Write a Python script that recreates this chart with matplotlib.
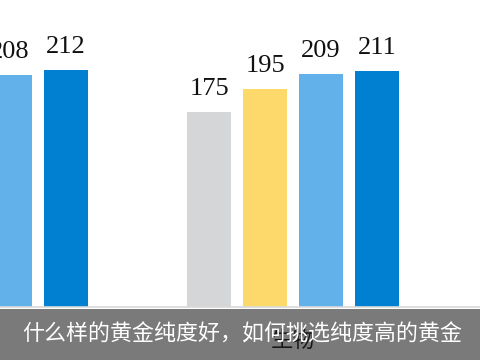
import numpy as np
import matplotlib.pyplot as plt
from matplotlib.patches import Rectangle

plt.rcParams['font.family'] = ['Noto Sans CJK SC', 'DejaVu Sans']

# 科目 (only two groups show in the crop)
subjects = ['物理', '生物']
# four series per subject; left group's first two bars are outside the crop
s_gray = [np.nan, 175]
s_yellow = [np.nan, 195]
s_lblue = [208, 209]
s_dblue = [212, 211]
caption = '什么样的黄金纯度好，如何挑选纯度高的黄金'

series = [s_gray, s_yellow, s_lblue, s_dblue]
colors = ['#D5D6D8', '#FDD96C', '#62B1EB', '#0180D1']

fig = plt.figure(figsize=(4.8, 3.6), dpi=100)
ax = fig.add_axes([0, 53 / 360, 1, 1 - 53 / 360])

step = 56 / 311
width = 44 / 311
x = np.arange(len(subjects))
for i, (vals, c) in enumerate(zip(series, colors)):
    pos = x + (i - 1.5) * step
    ax.bar(pos, vals, width=width, color=c, zorder=2)
    for p, v in zip(pos, vals):
        if np.isnan(v):
            continue
        ax.annotate(str(v), (p, v), xytext=(0, 12.2), textcoords='offset points',
                    ha='center', va='baseline', fontsize=19,
                    family='Liberation Serif', color='#111111')

ax.set_yticks([])
ax.set_xticks(x)
ax.set_xticklabels(subjects, fontsize=16, color='#333333')
# set limits after the ticks, set_xticks would widen them
ax.set_xlim(18 / 311, 18 / 311 + 480 / 311)
ax.set_ylim(0, 307 / 1.117)
ax.tick_params(axis='x', length=0, pad=16)
for s in ['top', 'left', 'right']:
    ax.spines[s].set_visible(False)
ax.spines['bottom'].set_color('#D9D9D9')
ax.spines['bottom'].set_linewidth(1.2)

# caption band over the bottom
band = Rectangle((0, 0), 1, 51 / 360, transform=fig.transFigure,
                 facecolor='black', alpha=0.52, edgecolor='none', zorder=10)
fig.add_artist(band)
fig.text(22 / 480, (360 - 334) / 360, caption, color='white', fontsize=15.8,
         ha='left', va='center', zorder=11)

fig.savefig('out.png', dpi=100)
